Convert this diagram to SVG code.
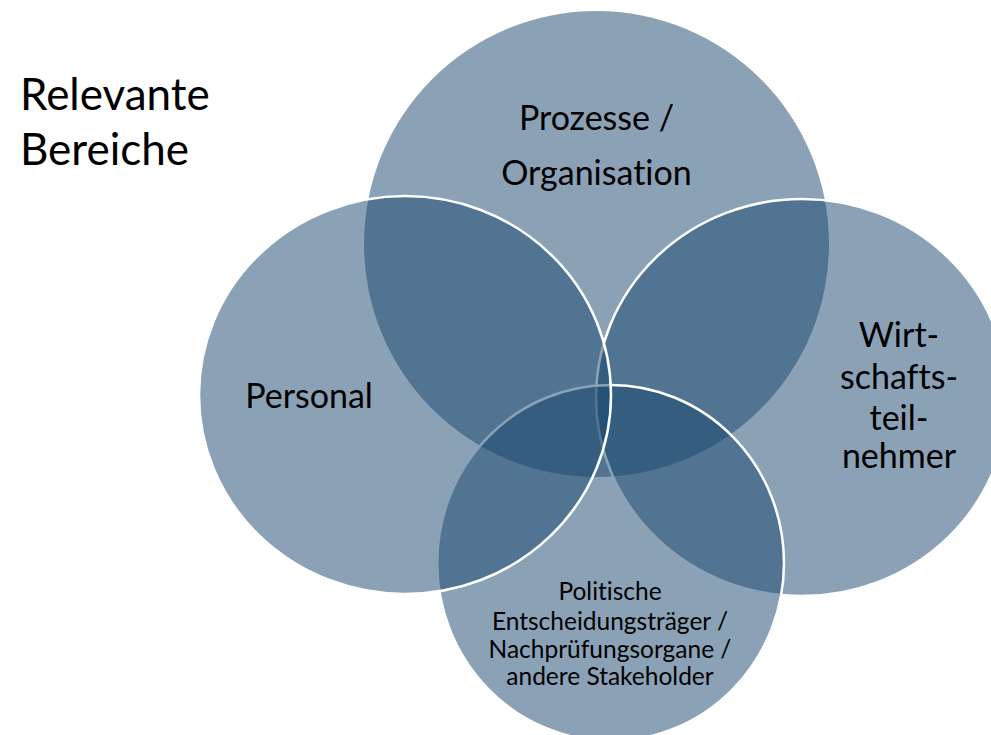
<svg xmlns="http://www.w3.org/2000/svg" width="991" height="735" viewBox="0 0 991 735">
<style>
.c{fill:#17466E;fill-opacity:0.5}
.s{stroke:#FFFFFF;stroke-width:2.5}
text{font-family:Lato,"Liberation Sans",sans-serif;fill:#000000;font-variant-ligatures:none;font-feature-settings:"liga" 0}
.big{font-size:34px;text-anchor:middle}
.small{font-size:24.5px;text-anchor:middle}
.title{font-size:44px}
</style>
<rect x="0" y="0" width="991" height="735" fill="#FFFFFF"/>
<g id="title">
<text class="title" x="20" y="110">Relevante</text>
<text class="title" x="20" y="165">Bereiche</text>
</g>
<g id="node-prozesse">
<ellipse class="c" cx="596.5" cy="244" rx="232.5" ry="233"/>
<text class="big" x="596.5" y="130">Prozesse /</text>
<text class="big" x="596.5" y="185">Organisation</text>
</g>
<g id="node-wirtschaft">
<ellipse class="c s" cx="802" cy="397.5" rx="206" ry="198.5"/>
<text class="big" x="899" y="347">Wirt-</text>
<text class="big" x="899" y="389">schafts-</text>
<text class="big" x="899" y="430">teil-</text>
<text class="big" x="899" y="468">nehmer</text>
</g>
<g id="node-stakeholder">
<ellipse class="c s" cx="610.6" cy="563" rx="173.4" ry="178"/>
<text class="small" x="610" y="600">Politische</text>
<text class="small" x="610" y="630">Entscheidungsträger /</text>
<text class="small" x="610" y="658">Nachprüfungsorgane /</text>
<text class="small" x="610" y="685">andere Stakeholder</text>
</g>
<g id="node-personal">
<ellipse class="c s" cx="405" cy="395" rx="206" ry="199"/>
<text class="big" x="309" y="408">Personal</text>
</g>
<g id="connectors"></g>
</svg>
